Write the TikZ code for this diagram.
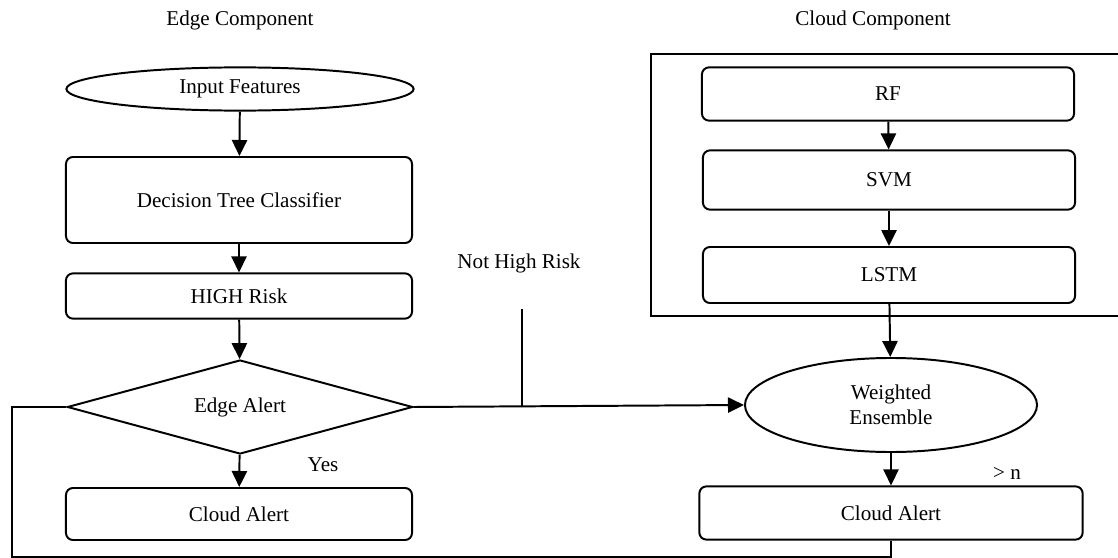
\documentclass[tikz,border=0pt]{standalone}
\usepackage{fontspec}
\usepackage{tikz}
\usetikzlibrary{arrows.meta,positioning,shapes.geometric}
\setmainfont{Liberation Serif}
\tikzset{
 procbox/.style={
 rectangle,
 rounded corners=5pt,
 draw=black,
 line width=1.4pt,
 align=center,
 inner sep=2pt,
 font=\fontsize{15}{18}\selectfont
 },
 terminal/.style={
 ellipse,
 draw=black,
 line width=1.4pt,
 align=center,
 inner sep=1pt,
 font=\fontsize{15}{18}\selectfont
 },
 decision/.style={
 diamond,
 draw=black,
 line width=1.4pt,
 align=center,
 aspect=3.67,
 inner sep=1pt,
 font=\fontsize{15}{18}\selectfont
 },
 plainlabel/.style={font=\fontsize{15}{18}\selectfont, inner sep=0pt},
 flowarrow/.style={-{Triangle[length=4mm,width=3.8mm]}, line width=1.4pt},
 flowline/.style={line width=1.4pt}
}

\begin{document}
\begin{tikzpicture}[x=0.025cm, y=-0.025cm]
 \useasboundingbox (0,0) rectangle (1118,558);

 % titles
 \node[plainlabel] (edgetitle) at (240,20) {Edge Component};
 \node[plainlabel] (cloudtitle) at (873,20) {Cloud Component};

 % edge side
 \node[terminal, minimum width=8.68cm, minimum height=1.08cm] (input) at (240,89) {Input Features};
 \node[procbox, minimum width=8.65cm, minimum height=2.15cm] (dtree) at (239,200) {Decision Tree Classifier};
 \node[procbox, minimum width=8.65cm, minimum height=1.13cm] (highrisk) at (239,296) {HIGH Risk};
 \node[decision, minimum width=8.63cm, minimum height=2.35cm] (edgealert) at (240,407) {Edge Alert};
 \node[procbox, minimum width=8.65cm, minimum height=1.3cm] (edgecloud) at (239,514) {Cloud Alert};

 % cloud side
 \draw[flowline] (1125,54) -- (651,54) -- (651,316) -- (1125,316);
 \node[procbox, minimum width=9.3cm, minimum height=1.33cm] (rf) at (888,94) {RF};
 \node[procbox, minimum width=9.3cm, minimum height=1.48cm] (svm) at (889,180) {SVM};
 \node[procbox, minimum width=9.3cm, minimum height=1.4cm] (lstm) at (889,275) {LSTM};
 \node[terminal, minimum width=7.3cm, minimum height=2.35cm] (ensemble) at (891,405) {Weighted\\Ensemble};
 \node[procbox, minimum width=9.58cm, minimum height=1.33cm] (cloudalert) at (891,513) {Cloud Alert};

 % labels
 \node[plainlabel] (yes) at (323,465) {Yes};
 \node[plainlabel] (nothigh) at (519,263) {Not High Risk};
 \node[plainlabel] (thresh) at (1007,473) {> n};
 \coordinate (nhrtop) at (522,309);
 \coordinate (loopcorner) at (12,557);

 % connectors
 \draw[flowarrow] (input) -- (dtree);
 \draw[flowarrow] (dtree) -- (highrisk);
 \draw[flowarrow] (highrisk) -- (edgealert);
 \draw[flowarrow] (edgealert) -- (edgecloud);
 \draw[flowarrow] (edgealert.east) -- (ensemble.west);
 \draw[flowline] (nhrtop) -- (nhrtop |- edgealert.east);
 \draw[flowline] (edgealert.west) -| (loopcorner) -| (cloudalert.south);
 \draw[flowarrow] (rf) -- (svm);
 \draw[flowarrow] (svm) -- (lstm);
 \draw[flowarrow] (lstm) -- (ensemble);
 \draw[flowarrow] (ensemble) -- (cloudalert);
\end{tikzpicture}
\end{document}
